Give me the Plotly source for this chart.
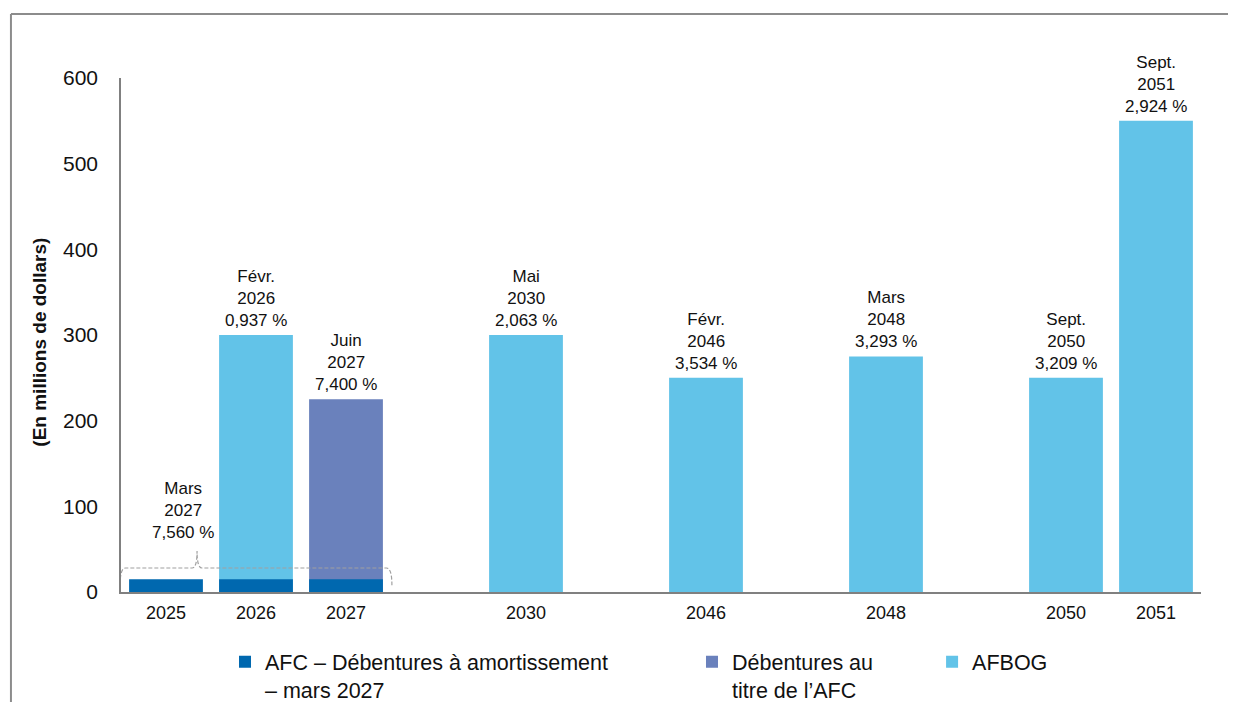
import plotly.graph_objects as go

# ---- data ----
slots = ["2025", "2026", "2027", "gap1", "2030", "gap2", "2046", "gap3", "2048", "gap4", "2050", "2051"]
year_ticks = ["2025", "2026", "2027", "2030", "2046", "2048", "2050", "2051"]

afc_x = ["2025", "2026", "2027"]
afc_y = [15, 15, 15]

deb_x = ["2027"]
deb_y = [225]

afbog_x = ["2026", "2030", "2046", "2048", "2050", "2051"]
afbog_y = [300, 300, 250, 275, 250, 550]

label_x = ["2026", "2027", "2030", "2046", "2048", "2050", "2051"]
label_y = [300, 225, 300, 250, 275, 250, 550]
label_txt = [
    "Févr.<br>2026<br>0,937 %",
    "Juin<br>2027<br>7,400 %",
    "Mai<br>2030<br>2,063 %",
    "Févr.<br>2046<br>3,534 %",
    "Mars<br>2048<br>3,293 %",
    "Sept.<br>2050<br>3,209 %",
    "Sept.<br>2051<br>2,924 %",
]
afc_label = "Mars<br>2027<br>7,560 %"

names = ["AFC – Débentures à amortissement<br>– mars 2027", "Débentures au<br>titre de l’AFC", "AFBOG"]
colors = ["#0068AF", "#6A81BC", "#62C3E8"]
y_title = "(En millions de dollars)"

FONT = "Liberation Sans, Arial, sans-serif"

fig = go.Figure()
fig.add_trace(go.Bar(x=afbog_x, y=afbog_y, name=names[2], marker_color=colors[2],
                     marker_line_width=0, legend="legend3"))
fig.add_trace(go.Bar(x=deb_x, y=deb_y, name=names[1], marker_color=colors[1],
                     marker_line_width=0, legend="legend2"))
fig.add_trace(go.Bar(x=afc_x, y=afc_y, name=names[0], marker_color=colors[0],
                     marker_line_width=0, legend="legend"))

annos = []
for x, y, t in zip(label_x, label_y, label_txt):
    annos.append(dict(xref="x", yref="y", x=slots.index(x), y=y, text=t, showarrow=False,
                      yanchor="bottom", yshift=3,
                      font=dict(family=FONT, size=17, color="#111111")))
annos.append(dict(xref="x", yref="y", x=slots.index(afc_x[0]), y=afc_y[0], text=afc_label,
                  showarrow=False, yanchor="bottom", xshift=17, yshift=35,
                  font=dict(family=FONT, size=17, color="#111111")))
# y-axis title
annos.append(dict(xref="paper", yref="paper", x=-0.0755, y=0.486, text="<b>" + y_title + "</b>",
                  textangle=-90, showarrow=False, xanchor="center", yanchor="middle",
                  font=dict(family=FONT, size=19, color="#111111")))

shapes = [
    # dashed brace around AFC bars (category index coords)
    dict(type="path", xref="x", yref="y",
         path="M -0.51,8 Q -0.51,28 -0.45,28 L 0.29,28 Q 0.345,28 0.345,48 "
              "Q 0.345,28 0.40,28 L 2.45,28 Q 2.51,28 2.51,8",
         line=dict(color="#A0A0A0", width=1.2, dash="4px,2px")),
    # outer frame (top and left edges)
    dict(type="line", xref="paper", yref="paper", x0=-0.1019, x1=1.06, y0=1.1245, y1=1.1245,
         line=dict(color="#8C8C8C", width=2)),
    dict(type="line", xref="paper", yref="paper", x0=-0.1019, x1=-0.1019, y0=1.1245, y1=-0.25,
         line=dict(color="#8C8C8C", width=2)),
]

leg_common = dict(orientation="v", yanchor="top", xanchor="left", bgcolor="rgba(0,0,0,0)",
                  valign="top", font=dict(family=FONT, size=21.5, color="#111111"))
fig.update_layout(
    width=1228, height=694,
    margin=dict(l=113, r=35, t=70, b=110, autoexpand=False),
    paper_bgcolor="white", plot_bgcolor="white",
    barmode="overlay", bargap=0.18,
    showlegend=True,
    font=dict(family=FONT, color="#111111"),
    annotations=annos,
    shapes=shapes,
    legend=dict(x=0.0963, y=-0.096, **leg_common),
    legend2=dict(x=0.5287, y=-0.096, **leg_common),
    legend3=dict(x=0.751, y=-0.096, **leg_common),
    xaxis=dict(type="category", categoryorder="array", categoryarray=slots,
               tickvals=year_ticks, ticktext=year_ticks, range=[-0.5, len(slots) - 0.5],
               showline=True, linecolor="#808080", linewidth=2, showgrid=False, ticks="",
               ticklabelstandoff=3,
               tickfont=dict(family=FONT, size=18, color="#111111")),
    yaxis=dict(range=[0, 600], tickvals=[0, 100, 200, 300, 400, 500, 600],
               showline=True, linecolor="#808080", linewidth=1.5, showgrid=False, zeroline=False,
               ticks="", ticklabelstandoff=17,
               tickfont=dict(family=FONT, size=21, color="#111111")),
)

fig.write_html("out.html")
